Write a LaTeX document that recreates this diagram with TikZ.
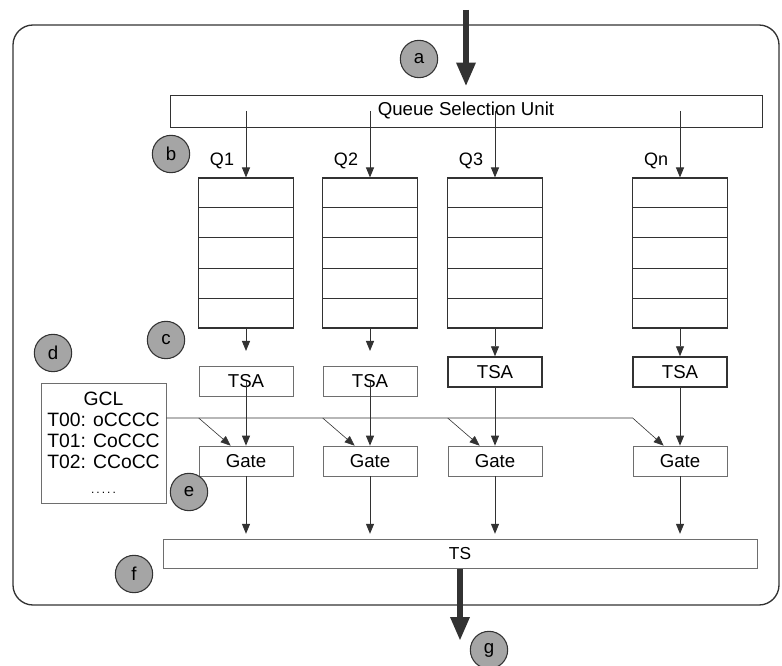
\documentclass[tikz,border=0pt]{standalone}
\usepackage{fontspec}
\setmainfont{Liberation Sans}
\usetikzlibrary{arrows.meta, positioning, calc}
\definecolor{dgray}{RGB}{50,50,50}
\definecolor{mgray}{RGB}{110,110,110}
\definecolor{cgray}{RGB}{165,165,165}

\tikzset{
  frame/.style={draw=dgray, line width=1pt, rounded corners=15pt},
  unit/.style={draw=dgray, line width=0.7pt, minimum width=444pt,
               minimum height=24pt, inner sep=0pt,
               font=\fontsize{14}{16}\selectfont},
  queue/.style={draw=dgray, line width=0.8pt, minimum width=71pt,
                minimum height=112.5pt, inner sep=0pt},
  cell/.style={draw=dgray, line width=0.7pt},
  lightbox/.style={draw=mgray, line width=0.5pt, minimum width=70.5pt,
                   minimum height=22.5pt, inner sep=0pt,
                   font=\fontsize{14}{15.75}\selectfont},
  heavybox/.style={lightbox, draw=dgray, line width=1.1pt},
  qlabel/.style={inner sep=0pt, font=\fontsize{13.5}{15}\selectfont},
  tag/.style={circle, draw=dgray, fill=cgray, line width=0.8pt,
              minimum size=28pt, inner sep=0pt,
              font=\fontsize{14}{16}\selectfont},
  flow/.style={draw=dgray, line width=0.7pt,
               -{Triangle[length=7.5pt, width=6pt]}},
  gclflow/.style={flow, line width=0.45pt},
  bigflow/.style={draw=dgray, line width=4.5pt,
                  -{Triangle[length=18pt, width=13.5pt]}}
}

\begin{document}
\begin{tikzpicture}[x=0.75pt, y=-0.75pt]
  \useasboundingbox (0,0) rectangle (782,666);
  \draw[frame] (13,25) rectangle (779,605);

  \node[unit] (qsu) at (466,111) {Queue Selection Unit};
  \node[unit, draw=mgray, line width=0.5pt, minimum width=445.5pt,
        minimum height=21.75pt, font=\fontsize{13}{15}\selectfont]
        (ts) at (460,554) {TS};

  % queues with their gates
  \foreach \n/\x in {1/246, 2/370, 3/495, n/680} {
    \node[queue] (q\n) at (\x,253) {};
    \foreach \i in {1,...,4}
      \draw[cell] ($(q\n.north west)!\i/5!(q\n.south west)$)
               -- ($(q\n.north east)!\i/5!(q\n.south east)$);
    \node[qlabel] (lq\n) at ($(q\n.north)+(-24,-17)$) {Q\n};
    \draw[flow] (q\n.north |- qsu.center) -- (q\n.north);
    \node[lightbox] (g\n) at (\x,461) {Gate};
    \draw[flow, shorten >=4pt] (g\n.south) -- (g\n.south |- ts.north);
  }

  % TSA stages
  \foreach \n/\x in {1/246, 2/370} {
    \node[lightbox] (t\n) at (\x,381) {TSA};
    \draw[flow, shorten >=11pt] (q\n.south) -- (t\n.north);
    \draw[flow] (t\n.center) -- (g\n.north);
  }
  \foreach \n/\x in {3/495, n/680} {
    \node[heavybox] (t\n) at (\x,372) {TSA};
    \draw[flow] (q\n.south) -- (t\n.north);
    \draw[flow] (t\n.south) -- (g\n.north);
  }

  % gate control list
  \node[lightbox, minimum width=93.75pt, minimum height=90pt, align=center,
        font=\fontsize{14.5}{15.75}\selectfont] (gcl) at (103.5,443)
        {GCL\\T00: oCCCC\\T01: CoCCC\\T02: CCoCC\\[3pt]
         {\fontsize{9}{10}\selectfont .\,.\,.\,.\,.}};
  \coordinate (bus) at ($(gcl.east)+(0,-25)$);
  \draw[gclflow] (bus) -- (bus -| gn.west) -- ($(gn.north west)+(31,0)$);
  \foreach \n in {1,2,3}
    \draw[gclflow] (bus -| g\n.west) -- ($(g\n.north west)+(32,0)$);

  % input and output
  \coordinate (inflow) at (466,10);
  \coordinate (outflow) at (460,641);
  \draw[bigflow, shorten >=6pt] (inflow) -- (qsu.north);
  \draw[bigflow] (ts.south) -- (outflow);

  \foreach \t/\x/\y in {a/419/59, b/171/154, c/166/340, d/53/353,
                        e/189/492, f/134/574, g/489/650}
    \node[tag] (tag\t) at (\x,\y) {\t};
\end{tikzpicture}
\end{document}
